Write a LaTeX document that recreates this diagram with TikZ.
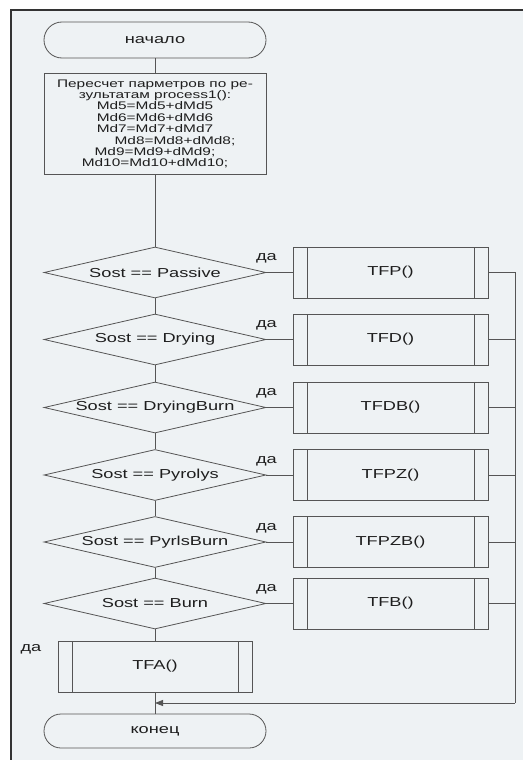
\documentclass[tikz,border=0pt]{standalone}
\usepackage{fontspec}
\setmainfont[FakeStretch=1.4]{Liberation Sans}
\usepackage{xcolor}
\definecolor{fcInk}  {RGB}{ 30,  30,  30}
\definecolor{fcLine} {RGB}{ 85,  85,  85}
\definecolor{fcPaper}{RGB}{238, 242, 244}
\usetikzlibrary{
  arrows.meta,
  positioning,
  shapes.geometric,
  shapes.misc,
}

\begin{document}
\begin{tikzpicture}[
  x=1pt, y=-1pt,
  >={Triangle[length=8pt,width=6pt]},
  base/.style={draw=fcLine, line width=0.8pt, fill=fcPaper,
               text=fcInk, inner sep=0pt,
               font=\fontsize{13}{15}\selectfont},
  term/.style={base, rounded rectangle,
               minimum width=222pt, minimum height=36pt},
  proc/.style={base, rectangle, align=center,
               minimum width=222pt, minimum height=101pt,
               font=\fontsize{11}{11.4}\selectfont},
  cond/.style={base, diamond, aspect=4.35,
               minimum width=222pt, minimum height=51pt},
  sub/.style={base, rectangle,
              minimum width=195pt, minimum height=51pt,
              path picture={
                \draw[fcLine, line width=0.8pt]
                  ([xshift=14pt]path picture bounding box.north west) --
                  ([xshift=14pt]path picture bounding box.south west);
                \draw[fcLine, line width=0.8pt]
                  ([xshift=-14pt]path picture bounding box.north east) --
                  ([xshift=-14pt]path picture bounding box.south east);
              }},
  yes/.style={text=fcInk, inner sep=0pt,
              font=\fontsize{13}{15}\selectfont},
  flow/.style={draw=fcLine, line width=0.8pt},
]
  % page and frame
  \useasboundingbox (0,0) rectangle (523,760);
  \fill[white] (0,0) rectangle (523,760);
  \fill[fcPaper] (11,10) rectangle (523,760);
  \draw[fcLine!60!black, line width=1.2pt] (11,760) -- (11,10) -- (523,10);

  % main column
  \node[term] (start)  at (155, 40.0) {начало};
  \node[proc] (recalc) at (155,124.0) {Пересчет парметров по ре-\\
    зультатам process1():\\
    Md5=Md5+dMd5\\
    Md6=Md6+dMd6\\
    Md7=Md7+dMd7\\
    \hspace*{40pt}Md8=Md8+dMd8;\\
    Md9=Md9+dMd9;\\
    Md10=Md10+dMd10;};

  % state checks
  \node[cond] (isPass)  at (155,272.5) {Sost == Passive};
  \node[cond] (isDry)   at (155,339.5) {Sost == Drying};
  \node[cond] (isDryB)  at (155,407.5) {Sost == DryingBurn};
  \node[cond] (isPyr)   at (155,475.0) {Sost == Pyrolys};
  \node[cond] (isPyrB)  at (155,542.0) {Sost == PyrlsBurn};
  \node[cond] (isBurn)  at (155,603.5) {Sost == Burn};

  % subroutine calls on the right
  \node[sub] (tfp)   at (390.5,272.5) {TFP()};
  \node[sub] (tfd)   at (390.5,339.5) {TFD()};
  \node[sub] (tfdb)  at (390.5,407.5) {TFDB()};
  \node[sub] (tfpz)  at (390.5,475.0) {TFPZ()};
  \node[sub] (tfpzb) at (390.5,542.0) {TFPZB()};
  \node[sub] (tfb)   at (390.5,603.5) {TFB()};

  % fall-through call and end
  \node[sub, minimum width=194pt] (tfa) at (155,666.5) {TFA()};
  \node[yes] (yesA) at (31,649) {да};
  \node[term, minimum height=34pt] (stop) at (155,731) {конец};

  \coordinate (busEnd) at (515,703);
  \coordinate (merge)  at (stop.north |- busEnd);

  % vertical flow
  \draw[flow] (start.south)  -- (recalc.north);
  \draw[flow] (recalc.south) -- (isPass.north);
  \draw[flow] (isPass.south) -- (isDry.north);
  \draw[flow] (isDry.south)  -- (isDryB.north);
  \draw[flow] (isDryB.south) -- (isPyr.north);
  \draw[flow] (isPyr.south)  -- (isPyrB.north);
  \draw[flow] (isPyrB.south) -- (isBurn.north);
  \draw[flow] (isBurn.south) -- (tfa.north);
  \draw[flow] (tfa.south)    -- (stop.north);

  % "yes" branches
  \draw[flow] (isPass.east) -- node[yes, pos=0, above=9pt] (yes1) {да} (tfp.west);
  \draw[flow] (isDry.east)  -- node[yes, pos=0, above=9pt] (yes2) {да} (tfd.west);
  \draw[flow] (isDryB.east) -- node[yes, pos=0, above=9pt] (yes3) {да} (tfdb.west);
  \draw[flow] (isPyr.east)  -- node[yes, pos=0, above=9pt] (yes4) {да} (tfpz.west);
  \draw[flow] (isPyrB.east) -- node[yes, pos=0, above=9pt] (yes5) {да} (tfpzb.west);
  \draw[flow] (isBurn.east) -- node[yes, pos=0, above=9pt] (yes6) {да} (tfb.west);

  % return bus on the right
  \draw[flow] (tfp.east) -- (tfp.east -| busEnd) -- (busEnd);
  \draw[flow] (tfd.east)   -- (tfd.east -| busEnd);
  \draw[flow] (tfdb.east)  -- (tfdb.east -| busEnd);
  \draw[flow] (tfpz.east)  -- (tfpz.east -| busEnd);
  \draw[flow] (tfpzb.east) -- (tfpzb.east -| busEnd);
  \draw[flow] (tfb.east)   -- (tfb.east -| busEnd);
  \draw[flow, ->] (busEnd) -- (merge);
\end{tikzpicture}
\end{document}
